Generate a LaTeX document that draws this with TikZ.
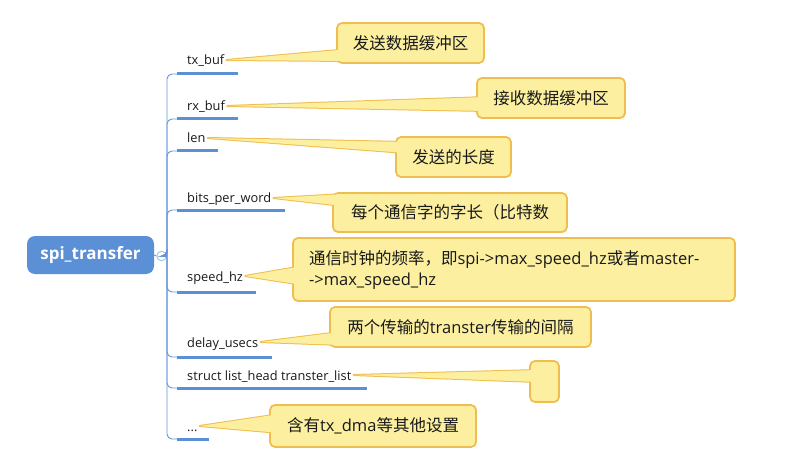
\documentclass[tikz,border=0pt]{standalone}
\usepackage{fontspec}
\setmainfont{Open Sans}
\newfontfamily\cjk{Noto Sans CJK SC}
\definecolor{rootblue}{RGB}{91,143,214}
\definecolor{linkblue}{RGB}{100,150,215}
\definecolor{togblue}{RGB}{165,190,232}
\definecolor{notefill}{RGB}{252,240,160}
\definecolor{noteline}{RGB}{240,190,80}
\definecolor{ink}{RGB}{25,25,25}
\tikzset{
  root/.style={fill=rootblue, rounded corners=8pt, text=white, font=\bfseries\fontsize{17}{20}\selectfont,
    minimum width=127pt, minimum height=38pt, inner sep=0pt},
  tog/.style={circle, draw=togblue, fill=white, line width=0.9pt, minimum size=9.5pt, inner sep=0pt},
  branch/.style={draw=linkblue, line width=0.9pt, rounded corners=5pt},
  uline/.style={draw=rootblue, line width=3pt},
  lbl/.style={anchor=base west, inner sep=2pt, text height=10pt, text depth=0pt, text=ink,
    font=\fontsize{12.8}{15}\selectfont},
  note/.style={fill=notefill, draw=noteline, line width=1.8pt, rounded corners=5pt, text=ink,
    font=\fontsize{16.5}{21}\selectfont, inner sep=0pt},
  ptr/.style={fill=notefill, draw=noteline, line width=2pt, line join=round},
  ptrfill/.style={fill=notefill},
}
\begin{document}
\begin{tikzpicture}[x=1pt,y=-1pt]
\useasboundingbox (0,0) rectangle (789,473);
% root and toggle
\node[root] (root) at (90.5,255) {spi\_transfer};
\node[tog] (tog) at (161.5,256) {};
\draw[togblue, line width=0.9pt] ([xshift=2pt]tog.west) -- ([xshift=-2pt]tog.east);
\coordinate (hub) at (tog.east);
\draw[branch] (root.east) -- (tog.west);
% labels
\node[lbl] (l1) at (185,65) {tx\_buf};
\node[lbl] (l2) at (185,111) {rx\_buf};
\node[lbl] (l3) at (185,143) {len};
\node[lbl] (l4) at (185,203) {bits\_per\_word};
\node[lbl] (l5) at (185,281) {speed\_hz};
\node[lbl] (l6) at (185,347) {delay\_usecs};
\node[lbl] (l7) at (185,380) {struct list\_head transter\_list};
\node[lbl] (l8) at (185,431) {...};
% branches and underlines
\coordinate (u1) at (177,74);  \coordinate (e1) at (238,74);
\coordinate (u2) at (177,119); \coordinate (e2) at (238,119);
\coordinate (u3) at (177,151); \coordinate (e3) at (218,151);
\coordinate (u4) at (177,210); \coordinate (e4) at (285,210);
\coordinate (u5) at (177,292); \coordinate (e5) at (256,292);
\coordinate (u6) at (177,357); \coordinate (e6) at (272,357);
\coordinate (u7) at (177,388); \coordinate (e7) at (367,388);
\coordinate (u8) at (177,439); \coordinate (e8) at (209,439);
\foreach \i in {1,...,8}{
  \draw[branch] (hub) -| (167,256) |- (u\i);
  \draw[uline] (u\i) -- (e\i);
}
% pointer base points
\coordinate (b1a) at (350,49);  \coordinate (b1b) at (350,61);
\coordinate (b2a) at (487,97);  \coordinate (b2b) at (487,111);
\coordinate (b3a) at (406,142); \coordinate (b3b) at (406,153);
\coordinate (b4a) at (345,194); \coordinate (b4b) at (343,206);
\coordinate (b5a) at (303,266); \coordinate (b5b) at (303,285);
\coordinate (b6a) at (340,332); \coordinate (b6b) at (342,345);
\coordinate (b7a) at (538,370); \coordinate (b7b) at (538,382);
\coordinate (b8a) at (280,414); \coordinate (b8b) at (280,433);
% pointers (outlined)
\foreach \i in {1,...,8}{
  \filldraw[ptr] (l\i.east) -- (b\i a) -- (b\i b) -- cycle;
}
% note boxes
\node[note, minimum width=147pt, minimum height=40pt] (c1) at (410.5,43) {\cjk 发送数据缓冲区};
\node[note, minimum width=148pt, minimum height=40pt] (c2) at (551,98) {\cjk 接收数据缓冲区};
\node[note, minimum width=115pt, minimum height=40pt] (c3) at (453.5,157) {\cjk 发送的长度};
\node[note, minimum width=234pt, minimum height=39pt] (c4) at (450,212.5) {\cjk 每个通信字的字长（比特数};
\node[note, minimum width=442pt, minimum height=63pt, text width=410pt, inner xsep=16pt, align=left] (c5) at (514,269.5)
  {{\cjk 通信时钟的频率，即}spi->max\_speed\_hz{\cjk 或者}master-\\->max\_speed\_hz};
\node[note, minimum width=261pt, minimum height=40pt] (c6) at (460.5,327) {{\cjk 两个传输的}transter{\cjk 传输的间隔}};
\node[note, minimum width=29pt, minimum height=41pt] (c7) at (544.5,381.5) {};
\node[note, minimum width=206pt, minimum height=42pt] (c8) at (373,426) {{\cjk 含有}tx\_dma{\cjk 等其他设置}};
% pointer fill over box border
\foreach \i in {1,...,8}{
  \fill[ptrfill] (l\i.east) -- (b\i a) -- (b\i b) -- cycle;
}
\end{tikzpicture}
\end{document}
